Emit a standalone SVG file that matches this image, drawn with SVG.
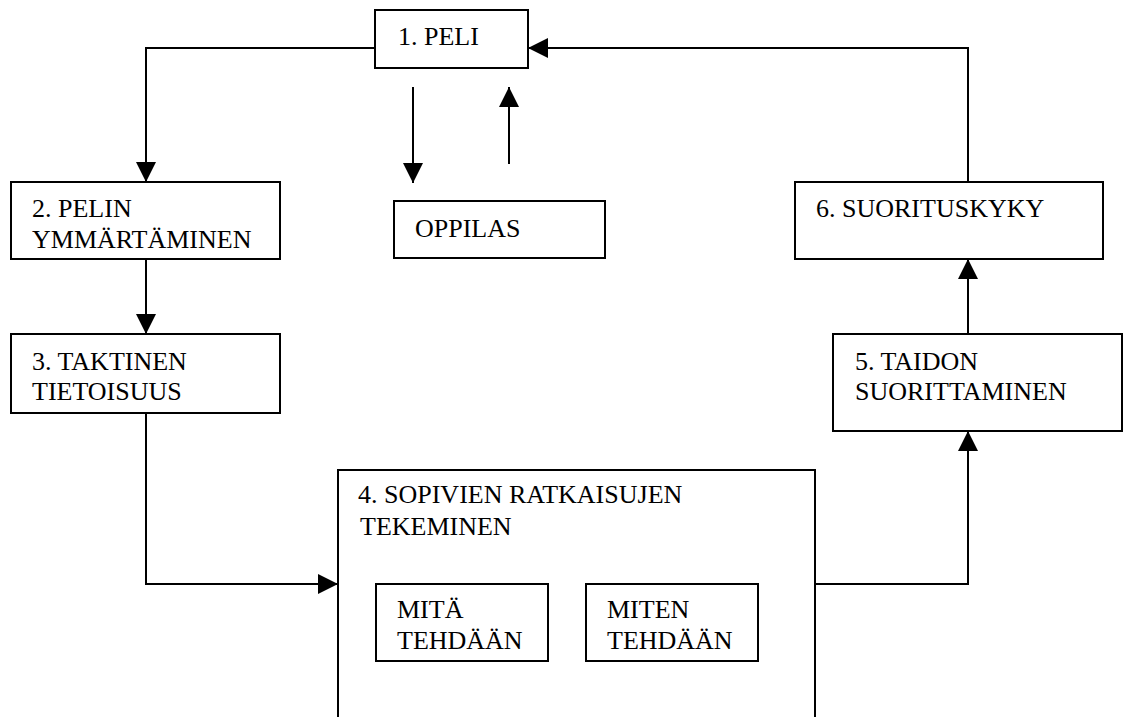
<svg xmlns="http://www.w3.org/2000/svg" width="1124" height="717" viewBox="0 0 1124 717">
<style>
rect.box{fill:#fff;stroke:#000;stroke-width:2}
text{font-family:'Liberation Serif','Tinos','Times New Roman','Noto Serif','DejaVu Serif',serif;font-size:26px;fill:#000}
.c{fill:none;stroke:#000;stroke-width:2}
</style>
<defs>
<marker id="ah" viewBox="0 0 20 20" refX="20" refY="10" markerWidth="20" markerHeight="20" markerUnits="userSpaceOnUse" orient="auto">
<path d="M0,0 L20,10 L0,20 Z" fill="#000"/>
</marker>
</defs>
<rect width="1124" height="717" fill="#fff"/>
<g id="connectors">
<path class="c" d="M375,48 H146 V182" marker-end="url(#ah)"/>
<path class="c" d="M146,259 V334" marker-end="url(#ah)"/>
<path class="c" d="M146,413 V584 H338" marker-end="url(#ah)"/>
<path class="c" d="M815,584 H968 V431" marker-end="url(#ah)"/>
<path class="c" d="M968,334 V259" marker-end="url(#ah)"/>
<path class="c" d="M968,182 V48 H528" marker-end="url(#ah)"/>
<path class="c" d="M413,87 V183" marker-end="url(#ah)"/>
<path class="c" d="M509,164 V87" marker-end="url(#ah)"/>
</g>
<g id="n1"><rect class="box" x="375" y="10" width="153" height="58"/><text x="398" y="45">1. PELI</text></g>
<g id="n2"><rect class="box" x="11" y="182" width="269" height="77"/><text x="32" y="217">2. PELIN</text><text x="32" y="248">YMMÄRTÄMINEN</text></g>
<g id="oppilas"><rect class="box" x="394" y="201" width="211" height="57"/><text x="415" y="237">OPPILAS</text></g>
<g id="n6"><rect class="box" x="795" y="182" width="308" height="77"/><text x="816" y="217">6. SUORITUSKYKY</text></g>
<g id="n3"><rect class="box" x="11" y="334" width="269" height="79"/><text x="32" y="370">3. TAKTINEN</text><text x="32" y="400">TIETOISUUS</text></g>
<g id="n5"><rect class="box" x="833" y="334" width="289" height="97"/><text x="855" y="370">5. TAIDON</text><text x="855" y="400">SUORITTAMINEN</text></g>
<g id="n4"><path class="c" d="M338,720 V470 H815 V720"/><text x="358" y="503">4. SOPIVIEN RATKAISUJEN</text><text x="360" y="535">TEKEMINEN</text></g>
<g id="mita"><rect class="box" x="376" y="584" width="172" height="77"/><text x="397" y="618">MITÄ</text><text x="397" y="649">TEHDÄÄN</text></g>
<g id="miten"><rect class="box" x="586" y="584" width="172" height="77"/><text x="607" y="618">MITEN</text><text x="607" y="649">TEHDÄÄN</text></g>
</svg>
